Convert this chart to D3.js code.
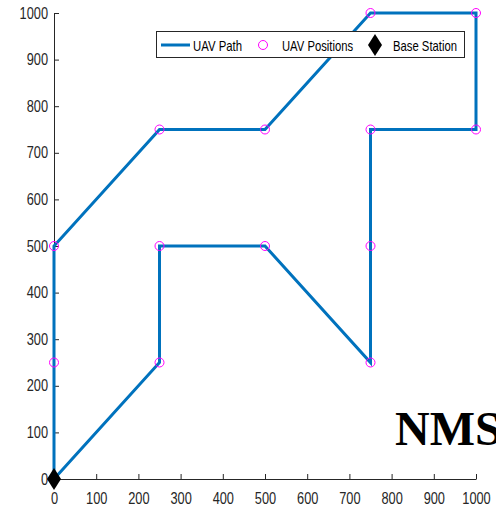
<!DOCTYPE html>
<html>
<head>
<meta charset="utf-8">
<script src="https://cdn.jsdelivr.net/npm/d3@7"></script>
<style>
  html, body { margin: 0; padding: 0; background: #fff; }
  svg { display: block; }
</style>
</head>
<body>
<svg id="chart" width="496" height="508"></svg>
<script>
// UAV flight path (visit order), positions and base station
const pathX = [0, 250, 250, 500, 750, 750, 750, 1000, 1000, 750, 500, 250, 0, 0, 0];
const pathY = [0, 250, 500, 500, 250, 500, 750, 750, 1000, 1000, 750, 750, 500, 250, 0];
const posX = [0, 0, 250, 250, 500, 750, 750, 750, 750, 1000, 1000, 500, 250];
const posY = [250, 500, 250, 500, 500, 250, 500, 750, 1000, 1000, 750, 750, 750];
const baseX = [0];
const baseY = [0];
const xTicks = [0, 100, 200, 300, 400, 500, 600, 700, 800, 900, 1000];
const yTicks = [0, 100, 200, 300, 400, 500, 600, 700, 800, 900, 1000];
const legendLabels = ["UAV Path", "UAV Positions", "Base Station"];

const svg = d3.select("#chart");
const font = "'Liberation Sans', Arial, sans-serif";
const squeeze = 0.8; // horizontal condensing of the sans text
const axisColor = "#262626";
const lineColor = "#0072BD";

const x = d3.scaleLinear().domain([0, 1000]).range([54, 476]);
const y = d3.scaleLinear().domain([0, 1000]).range([479, 13]);

// Axes (left and bottom only, ticks pointing inward)
const gx = svg.append("g").attr("transform", `translate(0,${y(0)})`)
  .call(d3.axisBottom(x).tickValues(xTicks).tickFormat(d3.format("d"))
    .tickSizeInner(-5).tickSizeOuter(0).tickPadding(14));
const gy = svg.append("g").attr("transform", `translate(${x(0)},0)`)
  .call(d3.axisLeft(y).tickValues(yTicks).tickFormat(d3.format("d"))
    .tickSizeInner(-5).tickSizeOuter(0).tickPadding(6));
[gx, gy].forEach(g => {
  g.select(".domain").attr("stroke", axisColor).attr("stroke-width", 1);
  g.selectAll(".tick line").attr("stroke", axisColor);
  g.selectAll(".tick text").attr("fill", axisColor)
    .style("font-family", font).style("font-size", "16px")
    .attr("transform", `scale(${squeeze},1)`);
});
gy.selectAll(".tick text").attr("x", -6 / squeeze);

// Path
const line = d3.line().x(i => x(pathX[i])).y(i => y(pathY[i]));
svg.append("path")
  .attr("d", line(d3.range(pathX.length)))
  .attr("fill", "none").attr("stroke", lineColor).attr("stroke-width", 3)
  .attr("stroke-linejoin", "miter");

// Positions
svg.append("g").selectAll("circle").data(d3.range(posX.length)).join("circle")
  .attr("cx", i => x(posX[i])).attr("cy", i => y(posY[i])).attr("r", 4.5)
  .attr("fill", "none").attr("stroke", "#FF00FF").attr("stroke-width", 1);

// Base station diamond
const diamond = (cx, cy, w, h) => `M${cx},${cy - h}L${cx + w},${cy}L${cx},${cy + h}L${cx - w},${cy}Z`;
svg.append("g").selectAll("path").data(d3.range(baseX.length)).join("path")
  .attr("d", i => diamond(x(baseX[i]), y(baseY[i]), 7, 11))
  .attr("fill", "#000");

// Legend
const lg = svg.append("g");
lg.append("rect").attr("x", 156.5).attr("y", 31.5).attr("width", 308).attr("height", 26)
  .attr("fill", "#fff").attr("stroke", axisColor).attr("stroke-width", 1);
lg.append("line").attr("x1", 161).attr("x2", 190).attr("y1", 45).attr("y2", 45)
  .attr("stroke", lineColor).attr("stroke-width", 3);
lg.append("circle").attr("cx", 263).attr("cy", 45).attr("r", 4.5)
  .attr("fill", "none").attr("stroke", "#FF00FF").attr("stroke-width", 1);
lg.append("path").attr("d", diamond(375, 45, 7, 11)).attr("fill", "#000");
const lx = [193, 282, 393];
const lw = [49, 71, 64];
legendLabels.forEach((t, i) => {
  lg.append("text").attr("x", lx[i]).attr("y", 50.5).text(t)
    .attr("textLength", lw[i]).attr("lengthAdjust", "spacingAndGlyphs")
    .attr("fill", "#000").style("font-family", font).style("font-size", "15px");
});

// Watermark
svg.append("text").attr("x", 395).attr("y", 445).text("NMS")
  .style("font-family", "'Liberation Serif', 'Times New Roman', serif")
  .style("font-weight", "bold").style("font-size", "48px").attr("fill", "#000");
</script>
</body>
</html>
